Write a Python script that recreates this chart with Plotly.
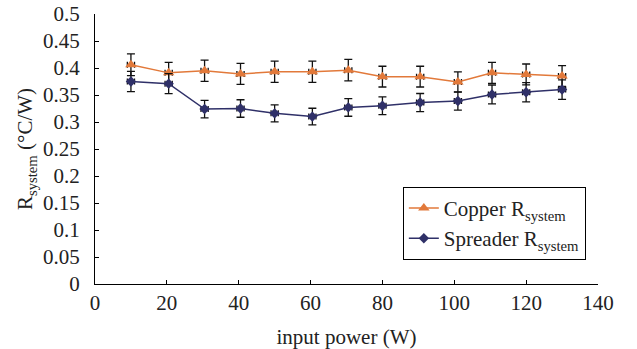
import plotly.graph_objects as go

power = [10, 20.5, 30.5, 40.5, 50, 60.5, 70.5, 80, 90.5, 101, 110.5, 120, 130]
copper = [0.406, 0.391, 0.395, 0.389, 0.393, 0.393, 0.396, 0.384, 0.384, 0.374, 0.391, 0.388, 0.385]
spreader = [0.375, 0.371, 0.324, 0.325, 0.316, 0.310, 0.327, 0.330, 0.336, 0.339, 0.351, 0.355, 0.360]
err_pct = 5
x_err = 1

font = "Times New Roman, DejaVu Serif"

fig = go.Figure()
fig.add_trace(go.Scatter(
    x=power, y=copper, mode="lines+markers",
    name="Copper R<sub>system</sub>",
    line=dict(color="#E2793A", width=1.5),
    marker=dict(symbol="triangle-up", size=10, color="#E2793A"),
    error_y=dict(type="percent", value=err_pct, color="#111", thickness=1.3, width=4),
    error_x=dict(type="constant", value=x_err, color="#111", thickness=1.3, width=3),
))
fig.add_trace(go.Scatter(
    x=power, y=spreader, mode="lines+markers",
    name="Spreader R<sub>system</sub>",
    line=dict(color="#2F3068", width=1.5),
    marker=dict(symbol="diamond", size=8, color="#2F3068"),
    error_y=dict(type="percent", value=err_pct, color="#111", thickness=1.3, width=4),
    error_x=dict(type="constant", value=x_err, color="#111", thickness=1.3, width=3),
))

fig.update_layout(
    width=637, height=349,
    margin=dict(l=95, r=39, t=14, b=65),
    paper_bgcolor="white", plot_bgcolor="white",
    font=dict(family=font, size=21, color="#222"),
    legend=dict(
        x=0.612, y=0.36, xanchor="left", yanchor="top",
        bordercolor="black", borderwidth=1, bgcolor="white",
        font=dict(family=font, size=21),
        itemwidth=30,
    ),
    xaxis=dict(
        range=[0, 140], dtick=20, showline=True, linecolor="black", linewidth=1,
        ticks="inside", ticklen=4, tickcolor="black", showgrid=False, zeroline=False,
        automargin=False,
        title=dict(text="input power (W)", standoff=16, font=dict(family=font, size=21)),
        tickfont=dict(family=font, size=21),
    ),
    yaxis=dict(
        range=[0, 0.5], dtick=0.05, showline=True, linecolor="black", linewidth=1,
        ticks="inside", ticklen=4, tickcolor="black", showgrid=False, zeroline=False,
        automargin=False,
        title=dict(text="R<sub>system</sub> (°C/W)", standoff=4, font=dict(family=font, size=21)),
        tickfont=dict(family=font, size=21), tickformat="~g", ticklabelstandoff=10,
    ),
)

fig.write_html(
    "out.html",
    config={"displayModeBar": False},
    post_script="document.body.style.margin='0';document.body.style.overflow='hidden';",
)
